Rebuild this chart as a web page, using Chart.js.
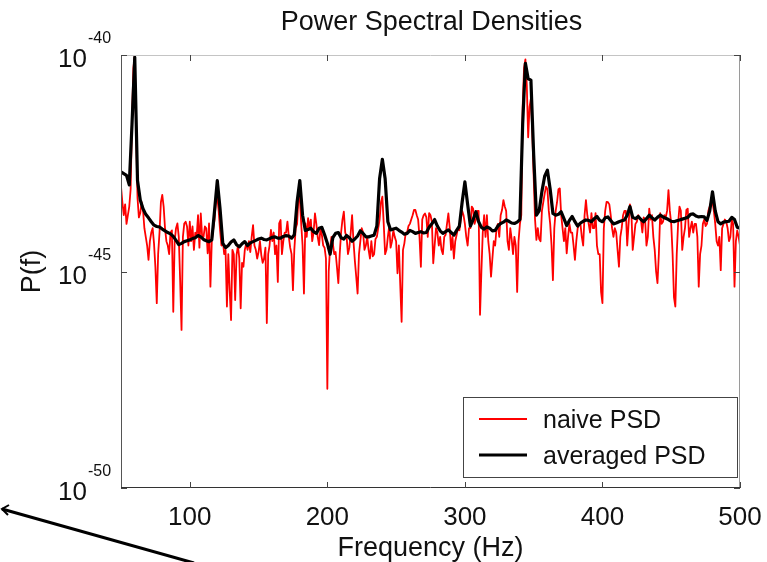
<!DOCTYPE html>
<html>
<head>
<meta charset="utf-8">
<title>Power Spectral Densities</title>
<script src="https://cdn.jsdelivr.net/npm/chart.js@4.4.1/dist/chart.umd.min.js"></script>
<style>
  html, body { margin: 0; padding: 0; background: #fff; }
  #wrap { width: 767px; height: 562px; position: relative; }
</style>
</head>
<body>
<div id="wrap"><canvas id="psdChart"></canvas></div>
<script>
// frequency grids of the two PSD estimates (Hz)
const freqStart = 50;
const naiveStep = 1;     // naive PSD: one value per 1 Hz bin, 50..500 Hz
const averagedStep = 2;  // averaged PSD: one value per 2 Hz bin, 50..500 Hz

// log10 of P(f)
const naiveLog = [
  -43.04, -43.40, -43.70, -43.45, -43.90, -43.70, -43.50, -43.10, -41.50, -40.30, -40.02, -41.80, -43.30, -43.75, -43.65, -43.40, -43.58, -44.00, -44.20, -44.40,
  -44.73, -44.30, -44.10, -44.00, -44.35, -44.90, -45.73, -44.60, -44.10, -43.40, -43.23, -43.50, -44.00, -44.30, -44.40, -44.60, -44.10, -44.05, -45.93, -44.30,
  -44.00, -43.89, -44.20, -45.20, -46.35, -44.20, -43.89, -43.85, -43.96, -44.40, -43.85, -44.30, -43.96, -44.50, -44.10, -44.20, -43.70, -44.45, -43.66, -44.20,
  -44.20, -43.96, -44.00, -44.58, -43.89, -45.35, -44.30, -44.04, -43.80, -43.35, -43.27, -43.60, -44.04, -44.40, -44.25, -44.60, -44.50, -45.81, -44.60, -45.43,
  -46.12, -44.50, -44.60, -45.66, -44.62, -44.40, -44.70, -45.85, -44.80, -44.89, -44.50, -44.35, -44.50, -44.30, -44.55, -44.20, -43.93, -44.40, -44.50, -44.70,
  -44.55, -44.30, -44.62, -44.80, -44.70, -44.45, -46.19, -44.60, -44.40, -44.04, -44.30, -44.10, -44.60, -44.40, -45.24, -43.89, -43.81, -44.60, -44.30, -44.10,
  -44.10, -43.85, -44.20, -44.45, -44.60, -45.43, -44.50, -44.00, -43.90, -43.30, -43.30, -43.90, -44.40, -45.51, -43.89, -44.20, -43.77, -44.00, -43.80, -44.30,
  -44.10, -43.66, -43.90, -44.20, -44.39, -44.00, -44.15, -44.40, -44.45, -44.70, -47.71, -45.00, -44.45, -44.20, -44.35, -44.60, -44.55, -44.90, -45.27, -44.60,
  -44.10, -43.80, -43.62, -44.10, -44.20, -44.60, -44.45, -44.10, -43.70, -44.30, -44.75, -45.12, -45.51, -44.60, -44.30, -44.00, -44.10, -44.50, -44.40, -44.20,
  -44.50, -44.70, -44.30, -44.65, -44.60, -44.25, -44.20, -44.00, -43.80, -43.40, -43.27, -43.90, -44.60, -44.50, -44.20, -43.95, -44.45, -44.30, -44.05, -44.20,
  -44.30, -45.04, -44.40, -45.30, -46.16, -44.50, -44.35, -44.10, -44.10, -43.95, -43.90, -43.80, -43.70, -43.58, -43.58, -43.70, -43.80, -44.20, -44.89, -43.80,
  -43.70, -43.66, -43.75, -44.20, -43.65, -43.70, -43.85, -44.81, -44.40, -44.00, -44.10, -44.40, -44.20, -44.50, -44.60, -44.20, -44.15, -43.90, -43.66, -44.00,
  -44.50, -44.20, -44.70, -44.30, -44.15, -44.00, -44.05, -43.80, -43.60, -43.70, -43.90, -44.20, -44.40, -44.00, -44.00, -43.50, -43.55, -43.90, -43.80, -43.60,
  -43.60, -46.00, -45.00, -44.10, -43.70, -44.20, -43.70, -44.30, -44.60, -45.12, -44.70, -44.30, -44.40, -44.00, -43.90, -44.20, -43.70, -43.58, -43.35, -43.50,
  -43.60, -44.30, -44.50, -44.00, -44.25, -44.60, -44.20, -44.40, -45.47, -44.30, -43.90, -43.70, -41.20, -40.30, -40.10, -40.70, -41.90, -41.20, -41.00, -41.80,
  -42.80, -43.80, -44.27, -44.00, -44.25, -44.30, -43.60, -43.40, -43.20, -43.04, -43.10, -43.60, -43.90, -44.40, -45.20, -44.00, -43.60, -43.40, -43.10, -43.08,
  -43.70, -44.00, -44.30, -44.00, -44.58, -44.20, -43.90, -44.10, -44.10, -44.40, -44.73, -44.30, -44.00, -43.90, -43.90, -44.20, -44.40, -43.70, -43.35, -43.70,
  -43.90, -44.10, -43.65, -44.00, -44.00, -43.65, -44.40, -44.60, -44.60, -45.47, -45.73, -44.00, -43.60, -43.39, -43.40, -43.45, -43.70, -44.00, -44.20, -44.00,
  -44.10, -44.50, -44.89, -44.20, -44.00, -43.70, -43.60, -43.60, -44.40, -43.90, -43.45, -43.60, -44.50, -44.20, -43.90, -43.85, -43.70, -43.75, -43.80, -44.10,
  -43.75, -43.80, -44.40, -44.20, -43.55, -43.80, -43.70, -44.20, -44.50, -45.00, -45.27, -44.60, -43.65, -43.90, -43.85, -43.70, -43.75, -43.60, -43.12, -43.60,
  -43.90, -44.60, -45.60, -45.81, -44.60, -43.90, -43.50, -43.60, -44.50, -44.20, -44.00, -43.58, -43.55, -44.20, -44.00, -43.85, -44.10, -43.90, -43.90, -44.20,
  -45.35, -44.60, -44.40, -43.90, -43.80, -43.95, -43.90, -43.60, -43.50, -43.40, -43.40, -43.60, -43.90, -44.30, -44.40, -44.20, -44.97, -44.00, -43.90, -43.80,
  -43.85, -44.00, -44.30, -44.20, -43.80, -43.90, -45.35, -44.30, -44.05, -44.20, -44.40
];

const averagedLog = [
  -42.70, -42.74, -42.78, -43.00, -41.60, -40.05, -42.90, -43.35, -43.55, -43.68,
  -43.76, -43.85, -43.93, -43.96, -43.97, -44.02, -44.06, -44.10, -44.13, -44.19,
  -44.28, -44.38, -44.35, -44.31, -44.29, -44.27, -44.24, -44.22, -44.17, -44.20,
  -44.26, -44.29, -44.31, -44.27, -43.60, -42.90, -43.55, -44.35, -44.45, -44.40,
  -44.32, -44.27, -44.38, -44.43, -44.36, -44.31, -44.40, -44.34, -44.31, -44.28,
  -44.25, -44.23, -44.26, -44.27, -44.24, -44.21, -44.20, -44.23, -44.23, -44.19,
  -44.17, -44.18, -44.23, -44.15, -43.40, -42.90, -43.70, -44.05, -44.03, -44.00,
  -44.08, -44.12, -44.00, -43.98, -44.15, -44.35, -44.60, -44.22, -44.12, -44.10,
  -44.22, -44.25, -44.17, -44.22, -44.30, -44.25, -44.18, -44.06, -44.12, -44.20,
  -44.20, -44.18, -44.16, -43.95, -42.85, -42.41, -42.85, -43.85, -44.04, -44.02,
  -44.00, -44.05, -44.09, -44.14, -44.12, -44.05, -44.08, -44.12, -44.10, -44.08,
  -44.11, -44.10, -43.98, -43.90, -43.80, -43.95, -44.06, -44.12, -44.08, -44.04,
  -44.10, -44.16, -44.05, -43.95, -43.40, -42.93, -43.45, -43.95, -43.80, -43.62,
  -43.85, -43.98, -44.02, -43.97, -44.00, -44.06, -44.05, -43.95, -43.89, -43.86,
  -43.81, -43.84, -43.88, -43.89, -43.86, -43.80, -41.60, -40.19, -40.55, -40.58,
  -42.30, -43.70, -43.60, -43.15, -42.80, -42.66, -43.10, -43.66, -43.70, -43.68,
  -43.62, -43.78, -43.94, -43.82, -43.73, -43.85, -43.95, -43.88, -43.84, -43.81,
  -43.82, -43.85, -43.78, -43.73, -43.82, -43.85, -43.76, -43.74, -43.82, -43.90,
  -43.88, -43.85, -43.83, -43.81, -43.70, -43.50, -43.75, -43.78, -43.73, -43.80,
  -43.85, -43.78, -43.70, -43.76, -43.81, -43.75, -43.70, -43.74, -43.77, -43.80,
  -43.84, -43.85, -43.83, -43.81, -43.79, -43.77, -43.75, -43.68, -43.67, -43.72,
  -43.74, -43.73, -43.74, -43.82, -43.60, -43.16, -43.60, -43.85, -43.90, -43.86,
  -43.85, -43.84, -43.75, -43.80, -43.98, -44.00
];

const xTicks = [100, 200, 300, 400, 500];
const yTickExps = [-50, -45, -40];
const seriesNames = ['naive PSD', 'averaged PSD'];

const FONT = '"Liberation Sans", Arial, Helvetica, sans-serif';

function toPoints(logs, step) {
  return logs.map((l, i) => ({ x: freqStart + i * step, y: Math.pow(10, l) }));
}

// Matlab-like axes box, inward ticks, labels, legend
const matlabAxes = {
  id: 'matlabAxes',
  afterDatasetsDraw(chart) {
    const { ctx, chartArea: a, scales: { x, y } } = chart;
    ctx.save();
    ctx.lineWidth = 1;
    // box
    ctx.strokeStyle = '#c4c4c4';
    ctx.beginPath(); ctx.moveTo(a.left, a.top + 0.5); ctx.lineTo(a.right, a.top + 0.5); ctx.stroke();
    ctx.strokeStyle = '#9a9a9a';
    ctx.beginPath(); ctx.moveTo(a.right - 0.5, a.top); ctx.lineTo(a.right - 0.5, a.bottom); ctx.stroke();
    ctx.strokeStyle = '#555';
    ctx.beginPath(); ctx.moveTo(a.left + 0.5, a.top); ctx.lineTo(a.left + 0.5, a.bottom); ctx.stroke();
    ctx.strokeStyle = '#333';
    ctx.beginPath(); ctx.moveTo(a.left, a.bottom - 0.5); ctx.lineTo(a.right, a.bottom - 0.5); ctx.stroke();
    // ticks
    ctx.strokeStyle = '#444';
    const tl = 6;
    xTicks.forEach(v => {
      const px = Math.round(x.getPixelForValue(v)) + 0.5;
      ctx.beginPath(); ctx.moveTo(px, a.bottom); ctx.lineTo(px, a.bottom - tl); ctx.stroke();
      ctx.beginPath(); ctx.moveTo(px, a.top); ctx.lineTo(px, a.top + tl); ctx.stroke();
    });
    yTickExps.forEach(e => {
      const py = Math.round(y.getPixelForValue(Math.pow(10, e))) + 0.5;
      ctx.beginPath(); ctx.moveTo(a.left, py); ctx.lineTo(a.left + tl, py); ctx.stroke();
      ctx.beginPath(); ctx.moveTo(a.right, py); ctx.lineTo(a.right - tl, py); ctx.stroke();
    });
    ctx.restore();
  },
  afterDraw(chart) {
    const { ctx, chartArea: a, scales: { x, y } } = chart;
    const cx = (a.left + a.right) / 2;
    ctx.save();
    ctx.fillStyle = '#111';

    // title
    ctx.font = '27px ' + FONT;
    ctx.textAlign = 'center';
    ctx.textBaseline = 'alphabetic';
    ctx.fillText('Power Spectral Densities', cx + 1, 30);

    // x tick labels
    ctx.font = '26px ' + FONT;
    xTicks.forEach(v => ctx.fillText(String(v), x.getPixelForValue(v), a.bottom + 37));

    // x title
    ctx.font = '27px ' + FONT;
    ctx.fillText('Frequency (Hz)', cx, 556);

    // y tick labels 10^e
    yTickExps.forEach(e => {
      const py = y.getPixelForValue(Math.pow(10, e));
      ctx.textAlign = 'right';
      ctx.textBaseline = 'alphabetic';
      ctx.font = '26px ' + FONT;
      ctx.fillText('10', 87, py + 12);
      ctx.textAlign = 'left';
      ctx.font = '16px ' + FONT;
      ctx.fillText(String(e), 88, py - 12);
    });

    // y title
    ctx.save();
    ctx.translate(40, (a.top + a.bottom) / 2);
    ctx.rotate(-Math.PI / 2);
    ctx.textAlign = 'center';
    ctx.font = '27px ' + FONT;
    ctx.fillText('P(f)', 0, 0);
    ctx.restore();

    // legend box
    const lw = 274, lh = 80;
    const lx = a.right - 3 - lw, ly = a.bottom - 11 - lh;
    ctx.fillStyle = '#fff';
    ctx.fillRect(lx, ly, lw, lh);
    ctx.strokeStyle = '#444';
    ctx.lineWidth = 1;
    ctx.strokeRect(Math.round(lx) + 0.5, Math.round(ly) + 0.5, lw, lh);
    const legendColors = ['#ff0000', '#000000'];
    const legendWidths = [2, 3];
    seriesNames.forEach((name, i) => {
      const yy = ly + 22 + i * 36;
      ctx.strokeStyle = legendColors[i];
      ctx.lineWidth = legendWidths[i];
      ctx.beginPath(); ctx.moveTo(lx + 16, yy); ctx.lineTo(lx + 64, yy); ctx.stroke();
      ctx.fillStyle = '#111';
      ctx.font = '25px ' + FONT;
      ctx.textAlign = 'left';
      ctx.textBaseline = 'alphabetic';
      ctx.fillText(name, lx + 80, yy + 9);
    });

    // stray annotation stroke at lower left
    ctx.strokeStyle = '#000';
    ctx.lineWidth = 3;
    ctx.beginPath(); ctx.moveTo(2, 509); ctx.lineTo(194, 563); ctx.stroke();
    ctx.lineWidth = 2;
    ctx.beginPath(); ctx.moveTo(9, 505); ctx.lineTo(2, 509); ctx.lineTo(8, 515); ctx.stroke();
    ctx.restore();
  }
};

new Chart(document.getElementById('psdChart').getContext('2d'), {
  type: 'line',
  data: {
    datasets: [
      {
        label: seriesNames[0],
        data: toPoints(naiveLog, naiveStep),
        borderColor: '#ff0000',
        borderWidth: 1.8,
        pointRadius: 0,
        tension: 0,
        order: 2
      },
      {
        label: seriesNames[1],
        data: toPoints(averagedLog, averagedStep),
        borderColor: '#000000',
        borderWidth: 3.2,
        pointRadius: 0,
        tension: 0,
        order: 1
      }
    ]
  },
  plugins: [matlabAxes],
  options: {
    responsive: true,
    maintainAspectRatio: false,
    animation: false,
    layout: { padding: { left: 121, right: 27, top: 55, bottom: 74 } },
    plugins: { legend: { display: false }, tooltip: { enabled: false } },
    elements: { line: { borderJoinStyle: 'round' } },
    scales: {
      x: { type: 'linear', min: 50, max: 500, display: false },
      y: { type: 'logarithmic', min: 1e-50, max: 1e-40, display: false }
    }
  }
});
</script>
</body>
</html>
